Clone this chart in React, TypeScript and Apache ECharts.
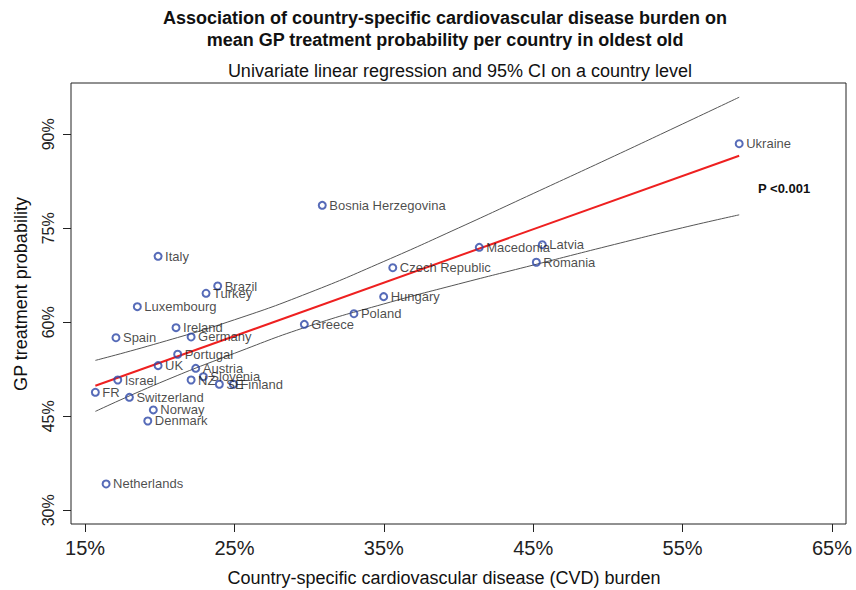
import React, { useEffect, useRef } from "react";
import * as echarts from "echarts";

const countries = [
  "Ukraine", "Bosnia Herzegovina", "Italy", "Brazil", "Turkey", "Luxembourg", "Ireland", "Germany",
  "Spain", "Portugal", "UK", "Austria", "Slovenia", "NZ", "SE", "Finland", "Israel", "FR",
  "Switzerland", "Norway", "Denmark", "Netherlands", "Greece", "Poland", "Hungary",
  "Czech Republic", "Macedonia", "Latvia", "Romania",
];
const cvdBurden = [
  58.79, 30.88, 19.89, 23.88, 23.1, 18.5, 21.09, 22.1, 17.07, 21.2, 19.89, 22.41, 22.92, 22.1,
  23.99, 24.93, 17.19, 15.69, 17.97, 19.57, 19.2, 16.41, 29.68, 33.0, 34.99, 35.6, 41.39, 45.61, 45.21,
];
const gpProbability = [
  88.5, 78.67, 70.53, 65.79, 64.63, 62.49, 59.14, 57.66, 57.54, 54.9, 53.08, 52.66, 51.32, 50.79,
  50.11, 50.11, 50.79, 48.83, 48.03, 46.01, 44.25, 34.2, 59.68, 61.37, 64.09, 68.71, 71.97, 72.38, 69.58,
];

const regX = [15.69, 58.79];
const regY = [49.87, 86.59];

const bandX = [15.69, 20, 25, 30, 35, 40, 45, 50, 55, 58.79];
const bandUpper = [53.92, 56.74, 60.4, 64.72, 69.71, 75.05, 80.55, 86.06, 91.65, 95.92];
const bandLower = [45.78, 50.34, 55.05, 59.4, 62.93, 66.11, 69.13, 72.16, 75.09, 77.15];

const xTicks = [15, 25, 35, 45, 55, 65];
const yTicks = [30, 45, 60, 75, 90];

const FONT = '"Liberation Sans", Arial, Helvetica, sans-serif';

export default function App() {
  const ref = useRef<HTMLDivElement>(null);

  useEffect(() => {
    const chart = echarts.init(ref.current!, null, { renderer: "svg" });
    const pairs = (xs: number[], ys: number[]) => xs.map((x, i) => [x, ys[i]]);

    chart.setOption({
      animation: false,
      backgroundColor: "#ffffff",
      textStyle: { fontFamily: FONT },
      grid: {
        left: 71,
        top: 83,
        right: 10,
        bottom: 66,
        show: true,
        borderColor: "#222",
        borderWidth: 1,
        backgroundColor: "transparent",
      },
      xAxis: {
        type: "value",
        min: 14.06,
        max: 65.94,
        splitLine: { show: false },
        axisLine: { show: false },
        axisTick: { show: true, length: 8, customValues: xTicks, lineStyle: { color: "#222" } },
        axisLabel: {
          customValues: xTicks,
          formatter: "{value}%",
          fontSize: 20,
          color: "#222",
          margin: 14,
          fontFamily: FONT,
        },
      },
      yAxis: {
        type: "value",
        min: 27.81,
        max: 98.19,
        splitLine: { show: false },
        axisLine: { show: false },
        axisTick: { show: true, length: 8, customValues: yTicks, lineStyle: { color: "#222" } },
        axisLabel: {
          customValues: yTicks,
          formatter: "{value}%",
          fontSize: 16,
          color: "#222",
          rotate: 90,
          margin: 15,
          fontFamily: FONT,
        },
      },
      graphic: [
        {
          type: "text",
          x: 445,
          y: 18,
          style: {
            text: "Association of country-specific cardiovascular disease burden on",
            font: `bold 18px ${FONT}`,
            fill: "#111",
            textAlign: "center",
            textVerticalAlign: "middle",
          },
        },
        {
          type: "text",
          x: 445,
          y: 40,
          style: {
            text: "mean GP treatment probability per country in oldest old",
            font: `bold 18px ${FONT}`,
            fill: "#111",
            textAlign: "center",
            textVerticalAlign: "middle",
          },
        },
        {
          type: "text",
          x: 460,
          y: 71,
          style: {
            text: "Univariate linear regression and 95% CI on a country level",
            font: `18px ${FONT}`,
            fill: "#111",
            textAlign: "center",
            textVerticalAlign: "middle",
          },
        },
        {
          type: "text",
          x: 444,
          y: 578,
          style: {
            text: "Country-specific cardiovascular disease (CVD) burden",
            font: `18px ${FONT}`,
            fill: "#111",
            textAlign: "center",
            textVerticalAlign: "middle",
          },
        },
        {
          type: "text",
          x: 21,
          y: 294,
          rotation: Math.PI / 2,
          style: {
            text: "GP treatment probability",
            font: `18px ${FONT}`,
            fill: "#111",
            textAlign: "center",
            textVerticalAlign: "middle",
          },
        },
        {
          type: "text",
          x: 758,
          y: 188,
          style: {
            text: "P <0.001",
            font: `bold 13px ${FONT}`,
            fill: "#111",
            textAlign: "left",
            textVerticalAlign: "middle",
          },
        },
      ],
      series: [
        {
          type: "line",
          data: pairs(bandX, bandUpper),
          showSymbol: false,
          smooth: true,
          lineStyle: { color: "#555", width: 1 },
          emphasis: { disabled: true },
          z: 1,
        },
        {
          type: "line",
          data: pairs(bandX, bandLower),
          showSymbol: false,
          smooth: true,
          lineStyle: { color: "#555", width: 1 },
          emphasis: { disabled: true },
          z: 1,
        },
        {
          type: "line",
          data: pairs(regX, regY),
          showSymbol: false,
          lineStyle: { color: "#ee2020", width: 2 },
          emphasis: { disabled: true },
          z: 2,
        },
        {
          type: "scatter",
          data: countries.map((c, i) => ({ name: c, value: [cvdBurden[i], gpProbability[i]] })),
          symbol: "circle",
          symbolSize: 7,
          itemStyle: { color: "rgba(255,255,255,0)", borderColor: "#2c46a6", borderWidth: 2 },
          label: {
            show: true,
            position: "right",
            distance: 2.5,
            formatter: "{b}",
            fontSize: 13,
            color: "#1a1a1a",
            fontFamily: FONT,
          },
          emphasis: { disabled: true },
          z: 3,
        },
      ],
    });

    return () => chart.dispose();
  }, []);

  return (
    <div
      ref={ref}
      style={{ position: "fixed", left: 0, top: 0, width: 856, height: 590, background: "#fff" }}
    />
  );
}
